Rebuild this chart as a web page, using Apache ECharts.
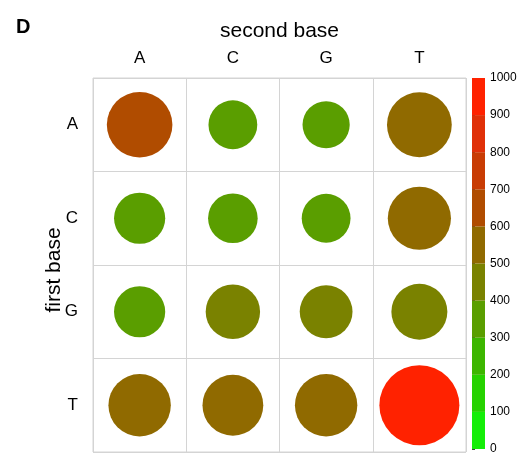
<!DOCTYPE html>
<html>
<head>
<meta charset="utf-8">
<script src="https://cdn.jsdelivr.net/npm/echarts@6/dist/echarts.min.js"></script>
<style>
html,body{margin:0;padding:0;background:#fff;}
#chart{width:523px;height:455px;}
</style>
</head>
<body>
<div id="chart"></div>
<script>
// second base (columns) and first base (rows)
const secondBase = ['A', 'C', 'G', 'T'];
const firstBase = ['A', 'C', 'G', 'T'];
// colour value per cell (rows = first base, columns = second base)
const colorValues = [
  [650, 350, 350, 560],
  [350, 350, 350, 570],
  [350, 450, 450, 450],
  [560, 560, 560, 960]
];
// relative size per cell (0-100)
const sizeValues = [
  [82, 61, 59, 81],
  [64, 62, 61, 79],
  [64, 68, 66, 70],
  [78, 76, 78, 100]
];
// colour bar
const binEdges = [0, 100, 200, 300, 400, 500, 600, 700, 800, 900, 1000];
const binColors = ['#14ee08', '#26d200', '#3cb600', '#5a9e00', '#7a8200',
                   '#906a00', '#b04c00', '#c83c04', '#e03008', '#ff2200'];
const scaleTicks = [0, 100, 200, 300, 400, 500, 600, 700, 800, 900, 1000];

const cellData = [];
firstBase.forEach((fb, r) => {
  secondBase.forEach((sb, c) => {
    cellData.push([c, r, colorValues[r][c], sizeValues[r][c]]);
  });
});
const barData = [];
for (let i = 0; i < binEdges.length - 1; i++) {
  barData.push([0, binEdges[i], (binEdges[i] + binEdges[i + 1]) / 2, binEdges[i + 1]]);
}
const pieces = [];
for (let i = 0; i < binEdges.length - 1; i++) {
  const p = { gte: binEdges[i], color: binColors[i] };
  if (i < binEdges.length - 2) p.lt = binEdges[i + 1]; else p.lte = binEdges[i + 1];
  pieces.push(p);
}

const FONT = 'Liberation Sans, Arial, Helvetica, sans-serif';
const chart = echarts.init(document.getElementById('chart'), null, { renderer: 'canvas' });
chart.setOption({
  backgroundColor: '#fff',
  animation: false,
  textStyle: { fontFamily: FONT },
  title: {
    text: 'D', left: 11, top: 12,
    textStyle: { fontSize: 20, fontWeight: 'bold', color: '#000', fontFamily: FONT }
  },
  grid: [
    { left: 93, top: 78, width: 373, height: 374, show: true, borderColor: '#d4d4d4', borderWidth: 1 },
    { left: 472, top: 78, width: 13, height: 373 }
  ],
  xAxis: [
    {
      type: 'category', gridIndex: 0, data: secondBase, position: 'top',
      name: 'second base', nameLocation: 'middle', nameGap: 36,
      nameTextStyle: { fontSize: 21, color: '#000', fontFamily: FONT },
      axisLine: { show: false }, axisTick: { show: false },
      axisLabel: { fontSize: 17, color: '#000', margin: 11, fontFamily: FONT },
      splitLine: { show: true, lineStyle: { color: '#d4d4d4', width: 1 } }
    },
    { type: 'value', gridIndex: 1, min: 0, max: 1, show: false }
  ],
  yAxis: [
    {
      type: 'category', gridIndex: 0, data: firstBase, inverse: true,
      name: 'first base', nameLocation: 'middle', nameGap: 28, nameRotate: 90,
      nameMoveOverlap: false,
      nameTextStyle: { fontSize: 21, color: '#000', fontFamily: FONT, padding: [0, 10, 0, 0] },
      axisLine: { show: false }, axisTick: { show: false },
      axisLabel: { fontSize: 17, color: '#000', margin: 15, fontFamily: FONT },
      splitLine: { show: true, lineStyle: { color: '#d4d4d4', width: 1 } }
    },
    {
      type: 'value', gridIndex: 1, min: 0, max: 1000, interval: 100, position: 'right',
      axisLine: { show: false },
      axisTick: { show: true, length: 3, lineStyle: { color: '#444' } },
      axisLabel: { fontSize: 12, color: '#000', margin: 5, fontFamily: FONT,
                   formatter: function (v) { return String(v); } },
      splitLine: { show: false }
    }
  ],
  visualMap: [
    { type: 'piecewise', show: false, dimension: 2, seriesIndex: [0, 1], pieces: pieces },
    { type: 'continuous', show: false, dimension: 3, seriesIndex: 0, min: 0, max: 100,
      inRange: { symbolSize: [0, 80] } }
  ],
  series: [
    {
      type: 'scatter', xAxisIndex: 0, yAxisIndex: 0, data: cellData,
      symbol: 'circle', itemStyle: { opacity: 1 }
    },
    {
      type: 'custom', xAxisIndex: 1, yAxisIndex: 1, data: barData,
      renderItem: function (params, api) {
        const cs = params.coordSys;
        const pLo = api.coord([api.value(0), api.value(1)]);
        const pHi = api.coord([api.value(0), api.value(3)]);
        return {
          type: 'rect',
          shape: { x: cs.x, y: pHi[1], width: cs.width, height: pLo[1] - pHi[1] },
          style: { fill: api.visual('color') }
        };
      }
    }
  ]
});
</script>
</body>
</html>
